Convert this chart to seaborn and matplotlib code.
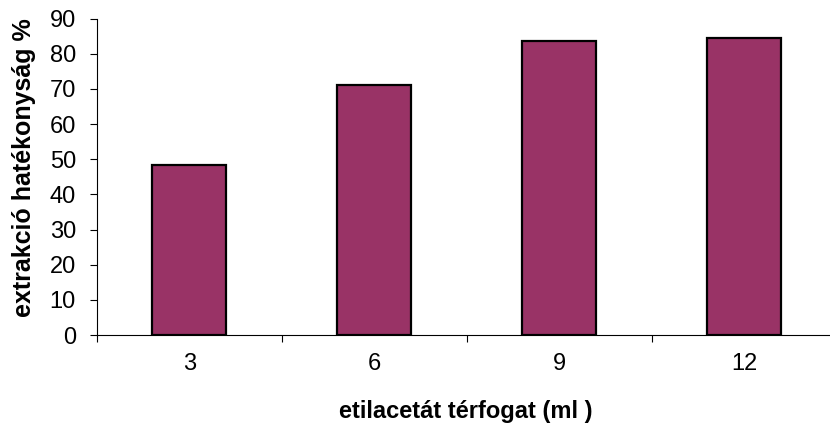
import matplotlib
matplotlib.use("Agg")
import matplotlib.pyplot as plt
import seaborn as sns
import pandas as pd
from matplotlib.ticker import FixedLocator, NullFormatter

# Extraction efficiency versus ethyl acetate volume
volumes = ["3", "6", "9", "12"]
efficiency = [48.5, 71.1, 83.7, 84.4]
y_ticks = [0, 10, 20, 30, 40, 50, 60, 70, 80, 90]

df = pd.DataFrame({"volume": volumes, "efficiency": efficiency})

sns.set_style("white")
plt.rcParams["font.family"] = ["Liberation Sans", "DejaVu Sans"]
plt.rcParams["text.color"] = "black"
plt.rcParams["xtick.color"] = "black"
plt.rcParams["ytick.color"] = "black"
plt.rcParams["axes.labelcolor"] = "black"

fig = plt.figure(figsize=(8.30, 4.23), dpi=100)
ax = fig.add_axes([0.1166, 0.208, 0.8918, 0.748])

sns.barplot(data=df, x="volume", y="efficiency", order=volumes,
            color="#993366", edgecolor="black", linewidth=1.6,
            width=0.40, saturation=1, ax=ax)

ax.set_ylim(0, 90)
ax.set_xlim(-0.5, 3.5)
ax.set_yticks(y_ticks)
ax.set_yticklabels([str(t) for t in y_ticks], fontsize=17, color="black")

# category labels centred under bars, tick marks between categories
ax.xaxis.set_major_locator(FixedLocator([-0.5, 0.5, 1.5, 2.5, 3.5]))
ax.xaxis.set_major_formatter(NullFormatter())
ax.xaxis.set_minor_locator(FixedLocator([0, 1, 2, 3]))
ax.set_xticklabels(volumes, minor=True, fontsize=17, color="black")
ax.tick_params(axis="x", which="minor", length=0, pad=13)
ax.tick_params(axis="x", which="major", length=5, width=0.8, color="black",
               direction="out", bottom=True)
ax.tick_params(axis="y", length=5, width=0.8, color="black",
               direction="out", left=True, pad=10)

for side in ["top", "right"]:
    ax.spines[side].set_visible(False)
for side in ["left", "bottom"]:
    ax.spines[side].set_color("black")
    ax.spines[side].set_linewidth(0.8)

ax.set_xlabel("")
ax.set_ylabel("")
fig.text(0.561, 0.028, "etilacetát térfogat (ml )", ha="center", va="center",
         fontsize=17, fontweight="bold", color="black")
fig.text(0.029, 0.603, "extrakció hatékonyság %", ha="center", va="center",
         rotation=90, fontsize=18, fontweight="bold", color="black")

fig.savefig("out.png", dpi=100)
